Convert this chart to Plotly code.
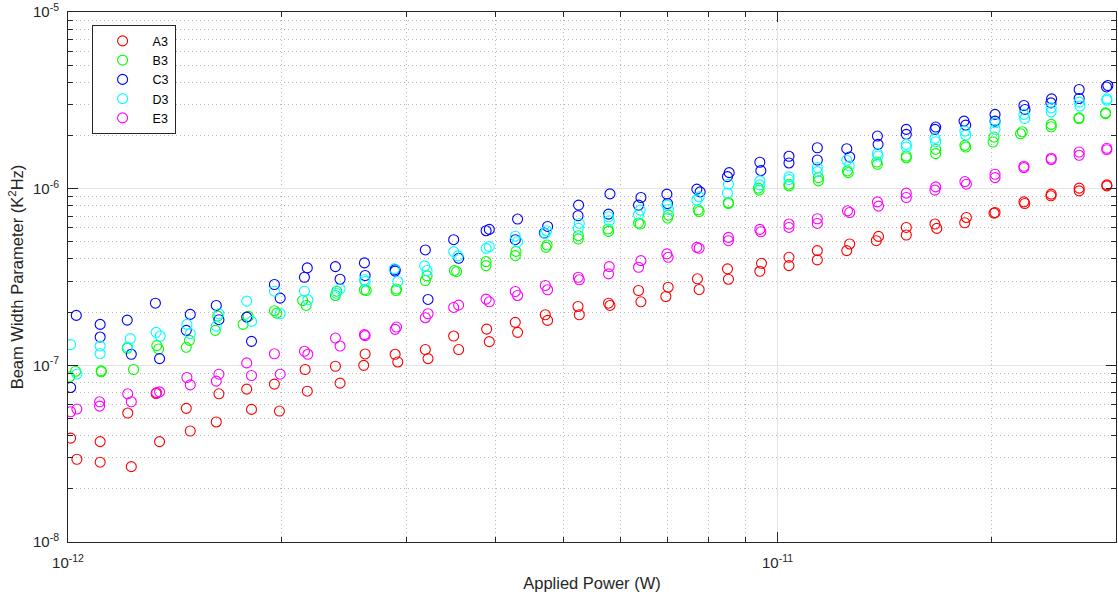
import math
import plotly.graph_objects as go

# Applied power (W) and measured beam width parameter (K^2 Hz), two readings per power step
power_a3 = [1.0085e-12, 1.0293e-12, 1.110e-12, 1.110e-12, 1.214e-12, 1.228e-12, 1.331e-12, 1.346e-12,
            1.468e-12, 1.487e-12, 1.632e-12, 1.618e-12, 1.786e-12, 1.814e-12, 1.954e-12, 1.986e-12,
            2.159e-12, 2.174e-12, 2.382e-12, 2.418e-12, 2.623e-12, 2.611e-12, 2.891e-12, 2.916e-12,
            3.189e-12, 3.217e-12, 3.496e-12, 3.553e-12, 3.891e-12, 3.925e-12, 4.270e-12, 4.302e-12,
            4.707e-12, 4.742e-12, 5.234e-12, 5.256e-12, 5.779e-12, 5.806e-12, 6.370e-12, 6.420e-12,
            7.013e-12, 6.961e-12, 7.712e-12, 7.755e-12, 8.502e-12, 8.529e-12, 9.494e-12, 9.443e-12,
            1.038e-11, 1.038e-11, 1.138e-11, 1.138e-11, 1.264e-11, 1.252e-11, 1.388e-11, 1.378e-11,
            1.519e-11, 1.519e-11, 1.667e-11, 1.677e-11, 1.846e-11, 1.836e-11, 2.026e-11, 2.019e-11,
            2.225e-11, 2.231e-11, 2.431e-11, 2.429e-11, 2.662e-11, 2.662e-11, 2.912e-11, 2.912e-11]
beam_a3 = [3.87e-8, 2.94e-8, 3.70e-8, 2.83e-8, 5.37e-8, 2.67e-8, 6.93e-8, 3.70e-8,
           5.71e-8, 4.25e-8, 6.90e-8, 4.78e-8, 7.33e-8, 5.63e-8, 7.83e-8, 5.51e-8,
           9.47e-8, 7.14e-8, 9.88e-8, 7.93e-8, 1.16e-7, 1.00e-7, 1.155e-7, 1.045e-7,
           1.228e-7, 1.092e-7, 1.465e-7, 1.228e-7, 1.604e-7, 1.362e-7, 1.751e-7, 1.537e-7,
           1.934e-7, 1.796e-7, 2.154e-7, 1.934e-7, 2.248e-7, 2.183e-7, 2.652e-7, 2.289e-7,
           2.768e-7, 2.453e-7, 3.088e-7, 2.686e-7, 3.516e-7, 3.072e-7, 3.780e-7, 3.407e-7,
           4.088e-7, 3.669e-7, 4.460e-7, 3.952e-7, 4.864e-7, 4.460e-7, 5.368e-7, 5.077e-7,
           6.034e-7, 5.467e-7, 6.306e-7, 5.956e-7, 6.871e-7, 6.413e-7, 7.33e-7, 7.27e-7,
           8.424e-7, 8.24e-7, 9.31e-7, 9.11e-7, 1.0065e-6, 9.72e-7, 1.05e-6, 1.037e-6]

power_b3 = [1.0052e-12, 1.0249e-12, 1.114e-12, 1.114e-12, 1.212e-12, 1.237e-12, 1.334e-12, 1.342e-12,
            1.483e-12, 1.468e-12, 1.626e-12, 1.613e-12, 1.795e-12, 1.765e-12, 1.954e-12, 1.969e-12,
            2.142e-12, 2.166e-12, 2.392e-12, 2.382e-12, 2.617e-12, 2.632e-12, 2.904e-12, 2.900e-12,
            3.207e-12, 3.189e-12, 3.504e-12, 3.530e-12, 3.884e-12, 3.884e-12, 4.280e-12, 4.270e-12,
            4.734e-12, 4.718e-12, 5.239e-12, 5.239e-12, 5.768e-12, 5.779e-12, 6.370e-12, 6.405e-12,
            7.019e-12, 6.998e-12, 7.730e-12, 7.755e-12, 8.529e-12, 8.529e-12, 9.400e-12, 9.421e-12,
            1.038e-11, 1.038e-11, 1.142e-11, 1.142e-11, 1.255e-11, 1.258e-11, 1.380e-11, 1.383e-11,
            1.519e-11, 1.519e-11, 1.671e-11, 1.671e-11, 1.837e-11, 1.842e-11, 2.019e-11, 2.013e-11,
            2.213e-11, 2.201e-11, 2.431e-11, 2.431e-11, 2.660e-11, 2.660e-11, 2.900e-11, 2.900e-11]
beam_b3 = [8.60e-8, 9.26e-8, 9.30e-8, 9.20e-8, 1.249e-7, 9.47e-8, 1.293e-7, 1.237e-7,
           1.385e-7, 1.265e-7, 1.899e-7, 1.578e-7, 1.892e-7, 1.705e-7, 2.038e-7, 1.975e-7,
           2.329e-7, 2.183e-7, 2.628e-7, 2.486e-7, 2.677e-7, 2.652e-7, 2.704e-7, 2.652e-7,
           3.211e-7, 3.020e-7, 3.439e-7, 3.394e-7, 3.865e-7, 3.669e-7, 4.418e-7, 4.178e-7,
           4.80e-7, 4.654e-7, 5.418e-7, 5.19e-7, 5.911e-7, 5.728e-7, 6.389e-7, 6.306e-7,
           7.087e-7, 6.817e-7, 7.592e-7, 7.426e-7, 8.35e-7, 8.24e-7, 1.0065e-6, 9.81e-7,
           1.060e-6, 1.037e-6, 1.155e-6, 1.107e-6, 1.26e-6, 1.232e-6, 1.416e-6, 1.375e-6,
           1.531e-6, 1.497e-6, 1.671e-6, 1.578e-6, 1.759e-6, 1.721e-6, 1.959e-6, 1.837e-6,
           2.099e-6, 2.046e-6, 2.311e-6, 2.24e-6, 2.518e-6, 2.492e-6, 2.686e-6, 2.66e-6]

power_c3 = [1.0273e-12, 1.0085e-12, 1.110e-12, 1.110e-12, 1.212e-12, 1.228e-12, 1.328e-12, 1.346e-12,
            1.487e-12, 1.468e-12, 1.618e-12, 1.632e-12, 1.786e-12, 1.814e-12, 1.954e-12, 1.991e-12,
            2.174e-12, 2.154e-12, 2.382e-12, 2.418e-12, 2.617e-12, 2.623e-12, 2.891e-12, 2.891e-12,
            3.189e-12, 3.217e-12, 3.496e-12, 3.553e-12, 3.884e-12, 3.925e-12, 4.302e-12, 4.270e-12,
            4.742e-12, 4.692e-12, 5.244e-12, 5.234e-12, 5.806e-12, 5.779e-12, 6.420e-12, 6.370e-12,
            6.984e-12, 6.998e-12, 7.698e-12, 7.780e-12, 8.549e-12, 8.502e-12, 9.443e-12, 9.474e-12,
            1.038e-11, 1.038e-11, 1.138e-11, 1.138e-11, 1.252e-11, 1.264e-11, 1.383e-11, 1.386e-11,
            1.519e-11, 1.519e-11, 1.671e-11, 1.667e-11, 1.832e-11, 1.842e-11, 2.026e-11, 2.026e-11,
            2.225e-11, 2.233e-11, 2.434e-11, 2.429e-11, 2.662e-11, 2.662e-11, 2.909e-11, 2.922e-11]
beam_c3 = [1.917e-7, 7.494e-8, 1.705e-7, 1.446e-7, 1.803e-7, 1.155e-7, 2.248e-7, 1.092e-7,
           1.942e-7, 1.578e-7, 2.183e-7, 1.813e-7, 1.875e-7, 1.367e-7, 2.867e-7, 2.40e-7,
           3.561e-7, 3.153e-7, 3.622e-7, 3.072e-7, 3.80e-7, 3.224e-7, 3.483e-7, 3.416e-7,
           4.499e-7, 2.36e-7, 5.142e-7, 4.035e-7, 5.781e-7, 5.88e-7, 6.73e-7, 5.142e-7,
           6.112e-7, 5.61e-7, 8.07e-7, 7.025e-7, 9.346e-7, 7.18e-7, 8.91e-7, 8.07e-7,
           9.31e-7, 8.24e-7, 9.935e-7, 9.59e-7, 1.232e-6, 1.17e-6, 1.411e-6, 1.265e-6,
           1.525e-6, 1.398e-6, 1.705e-6, 1.453e-6, 1.684e-6, 1.511e-6, 1.985e-6, 1.782e-6,
           2.166e-6, 2.03e-6, 2.232e-6, 2.166e-6, 2.412e-6, 2.289e-6, 2.632e-6, 2.412e-6,
           2.957e-6, 2.808e-6, 3.224e-6, 3.059e-6, 3.641e-6, 3.24e-6, 3.765e-6, 3.835e-6]

power_d3 = [1.0085e-12, 1.0293e-12, 1.110e-12, 1.110e-12, 1.224e-12, 1.214e-12, 1.331e-12, 1.349e-12,
            1.471e-12, 1.487e-12, 1.632e-12, 1.618e-12, 1.786e-12, 1.814e-12, 1.954e-12, 1.991e-12,
            2.154e-12, 2.178e-12, 2.418e-12, 2.387e-12, 2.617e-12, 2.623e-12, 2.884e-12, 2.916e-12,
            3.182e-12, 3.207e-12, 3.496e-12, 3.546e-12, 3.884e-12, 3.925e-12, 4.270e-12, 4.302e-12,
            4.727e-12, 4.702e-12, 5.256e-12, 5.239e-12, 5.779e-12, 5.792e-12, 6.405e-12, 6.370e-12,
            6.984e-12, 7.019e-12, 7.755e-12, 7.698e-12, 8.529e-12, 8.502e-12, 9.443e-12, 9.443e-12,
            1.038e-11, 1.038e-11, 1.138e-11, 1.138e-11, 1.252e-11, 1.262e-11, 1.383e-11, 1.386e-11,
            1.519e-11, 1.519e-11, 1.667e-11, 1.671e-11, 1.837e-11, 1.842e-11, 2.026e-11, 2.026e-11,
            2.225e-11, 2.231e-11, 2.431e-11, 2.431e-11, 2.662e-11, 2.669e-11, 2.912e-11, 2.912e-11]
beam_d3 = [1.31e-7, 8.91e-8, 1.286e-7, 1.166e-7, 1.416e-7, 1.27e-7, 1.537e-7, 1.465e-7,
           1.705e-7, 1.511e-7, 1.959e-7, 1.668e-7, 2.308e-7, 1.773e-7, 2.628e-7, 1.959e-7,
           2.628e-7, 2.35e-7, 2.712e-7, 2.561e-7, 3.048e-7, 2.981e-7, 3.516e-7, 2.981e-7,
           3.655e-7, 3.439e-7, 4.401e-7, 4.162e-7, 4.593e-7, 4.696e-7, 5.382e-7, 5.011e-7,
           5.781e-7, 5.58e-7, 6.355e-7, 5.956e-7, 6.934e-7, 6.58e-7, 7.563e-7, 7.114e-7,
           8.07e-7, 7.622e-7, 8.991e-7, 8.613e-7, 1.060e-6, 9.433e-7, 1.107e-6, 1.05e-6,
           1.166e-6, 1.126e-6, 1.315e-6, 1.249e-6, 1.448e-6, 1.345e-6, 1.578e-6, 1.531e-6,
           1.782e-6, 1.721e-6, 1.927e-6, 1.843e-6, 2.118e-6, 2.012e-6, 2.36e-6, 2.166e-6,
           2.632e-6, 2.498e-6, 2.867e-6, 2.722e-6, 3.088e-6, 2.931e-6, 3.224e-6, 3.167e-6]

power_e3 = [1.0085e-12, 1.0293e-12, 1.108e-12, 1.108e-12, 1.214e-12, 1.228e-12, 1.333e-12, 1.346e-12,
            1.471e-12, 1.487e-12, 1.632e-12, 1.618e-12, 1.786e-12, 1.814e-12, 1.954e-12, 1.991e-12,
            2.154e-12, 2.178e-12, 2.382e-12, 2.418e-12, 2.617e-12, 2.623e-12, 2.904e-12, 2.891e-12,
            3.217e-12, 3.189e-12, 3.496e-12, 3.553e-12, 3.884e-12, 3.925e-12, 4.270e-12, 4.302e-12,
            4.707e-12, 4.742e-12, 5.239e-12, 5.256e-12, 5.792e-12, 5.779e-12, 6.420e-12, 6.370e-12,
            6.984e-12, 7.013e-12, 7.698e-12, 7.755e-12, 8.529e-12, 8.529e-12, 9.443e-12, 9.474e-12,
            1.038e-11, 1.038e-11, 1.138e-11, 1.138e-11, 1.255e-11, 1.264e-11, 1.383e-11, 1.388e-11,
            1.519e-11, 1.519e-11, 1.671e-11, 1.667e-11, 1.837e-11, 1.846e-11, 2.026e-11, 2.026e-11,
            2.225e-11, 2.225e-11, 2.431e-11, 2.431e-11, 2.662e-11, 2.662e-11, 2.912e-11, 2.912e-11]
beam_e3 = [5.46e-8, 5.655e-8, 6.216e-8, 5.88e-8, 6.90e-8, 6.22e-8, 7.007e-8, 7.08e-8,
           8.535e-8, 7.75e-8, 8.91e-8, 8.135e-8, 1.032e-7, 8.76e-8, 1.163e-7, 8.91e-8,
           1.201e-7, 1.155e-7, 1.427e-7, 1.286e-7, 1.492e-7, 1.473e-7, 1.647e-7, 1.598e-7,
           1.959e-7, 1.860e-7, 2.127e-7, 2.191e-7, 2.369e-7, 2.289e-7, 2.617e-7, 2.486e-7,
           2.83e-7, 2.677e-7, 3.153e-7, 3.048e-7, 3.622e-7, 3.294e-7, 3.915e-7, 3.589e-7,
           4.272e-7, 4.088e-7, 4.654e-7, 4.60e-7, 5.299e-7, 5.077e-7, 5.88e-7, 5.705e-7,
           6.306e-7, 6.034e-7, 6.755e-7, 6.355e-7, 7.494e-7, 7.33e-7, 8.424e-7, 7.966e-7,
           9.433e-7, 8.91e-7, 1.024e-6, 9.81e-7, 1.097e-6, 1.060e-6, 1.207e-6, 1.155e-6,
           1.339e-6, 1.315e-6, 1.486e-6, 1.463e-6, 1.613e-6, 1.545e-6, 1.692e-6, 1.662e-6]

series_names = ["A3", "B3", "C3", "D3", "E3"]
series_colors = ["#ff0000", "#00ff00", "#0000ff", "#00ffff", "#ff00ff"]
series_power = [power_a3, power_b3, power_c3, power_d3, power_e3]
series_beam = [beam_a3, beam_b3, beam_c3, beam_d3, beam_e3]

x_tickvals = [1e-12, 1e-11]
x_ticktext = ["10<sup>-12</sup>", "10<sup>-11</sup>"]
y_tickvals = [1e-8, 1e-7, 1e-6, 1e-5]
y_ticktext = ["10<sup>-8</sup>", "10<sup>-7</sup>", "10<sup>-6</sup>", "10<sup>-5</sup>"]
x_limits = [1e-12, 3e-11]
y_limits = [1e-8, 1e-5]

FONT = "Liberation Sans, Arial, Helvetica, sans-serif"
AXIS_COLOR = "#262626"

fig = go.Figure()
for name, color, xs, ys in zip(series_names, series_colors, series_power, series_beam):
    fig.add_trace(go.Scatter(
        x=xs, y=ys, mode="markers", name=name,
        marker=dict(symbol="circle-open", size=10, color=color, line=dict(width=1.1, color=color)),
    ))


def minor_ticks(lo, hi):
    vals = []
    e = math.floor(math.log10(lo))
    while 10 ** e < hi:
        for k in range(2, 10):
            v = k * 10 ** e
            if lo < v < hi:
                vals.append(v)
        e += 1
    return vals


axis_common = dict(
    type="log", showline=True, linecolor=AXIS_COLOR, linewidth=1, mirror="allticks",
    ticks="inside", ticklen=10, tickwidth=1, tickcolor=AXIS_COLOR,
    showgrid=True, gridcolor="#e3e3e3", gridwidth=1, zeroline=False,
    tickfont=dict(family=FONT, size=15, color=AXIS_COLOR),
    tickmode="array", ticklabeloverflow="allow",
)
minor_common = dict(tickmode="array", ticks="inside", ticklen=5, tickcolor=AXIS_COLOR,
                    showgrid=True, gridcolor="#b8b8b8", griddash="1px,3px", gridwidth=1)

fig.update_xaxes(
    **axis_common,
    range=[math.log10(x_limits[0]), math.log10(x_limits[1])],
    tickvals=x_tickvals, ticktext=x_ticktext,
    ticklabelstandoff=7,
    minor=dict(tickvals=minor_ticks(*x_limits), **minor_common),
    title=dict(text="Applied Power (W)", font=dict(family=FONT, size=16.5, color=AXIS_COLOR), standoff=7),
)
fig.update_yaxes(
    **axis_common,
    range=[math.log10(y_limits[0]), math.log10(y_limits[1])],
    tickvals=y_tickvals, ticktext=y_ticktext,
    ticklabelstandoff=5,
    minor=dict(tickvals=minor_ticks(*y_limits), **minor_common),
    title=dict(text="Beam Width Parameter (K<sup>2</sup>Hz)",
               font=dict(family=FONT, size=16.5, color=AXIS_COLOR), standoff=5),
)

fig.update_layout(
    width=1118, height=602,
    margin=dict(l=68, r=1, t=10, b=60),
    paper_bgcolor="white", plot_bgcolor="white",
    font=dict(family=FONT, color=AXIS_COLOR),
    showlegend=True,
    legend=dict(
        x=0.0225, y=0.975, xanchor="left", yanchor="top",
        bgcolor="white", bordercolor=AXIS_COLOR, borderwidth=1,
        font=dict(family=FONT, size=12.5, color="black"),
        itemwidth=50,
    ),
)

fig.write_html("out.html")
